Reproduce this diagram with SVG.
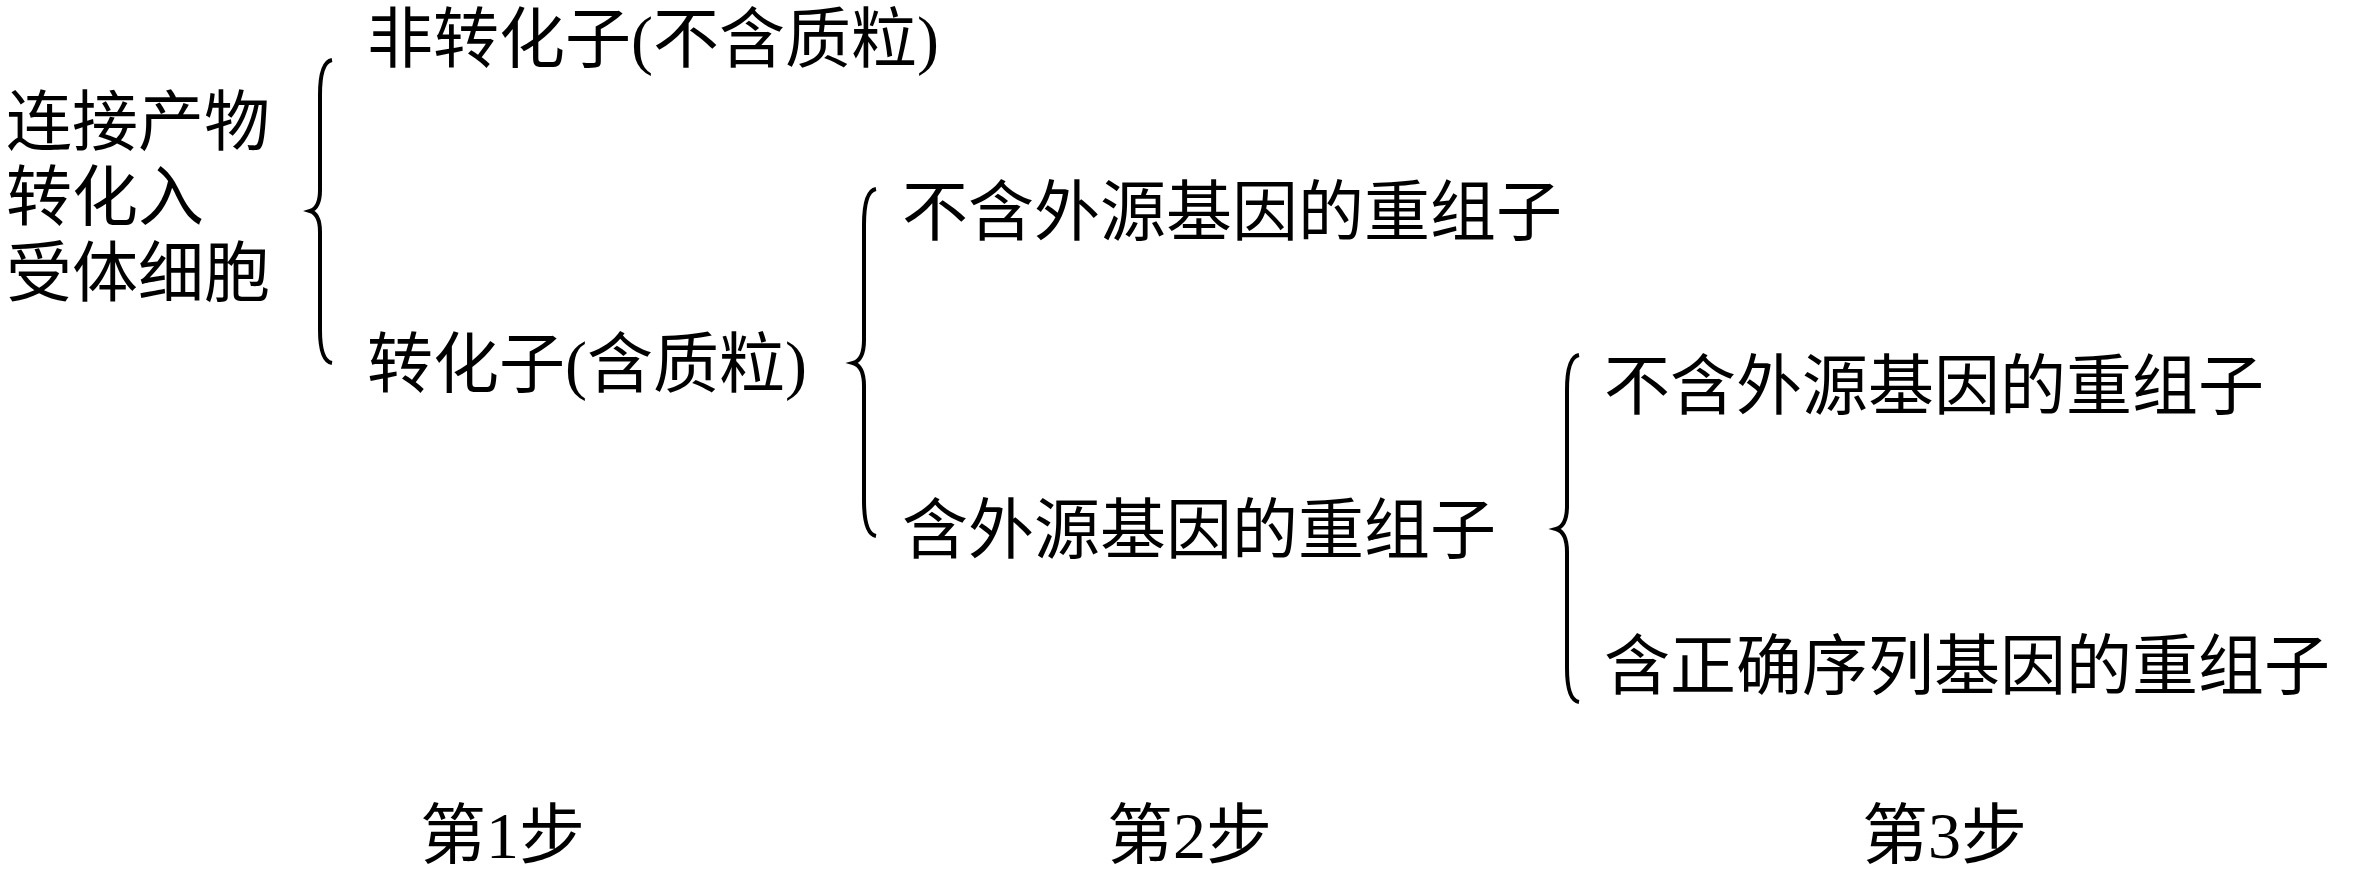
<svg xmlns="http://www.w3.org/2000/svg" width="2367" height="873" viewBox="0 0 2367 873">
<style>
text{font-family:"Liberation Serif","Noto Sans CJK SC",serif;font-size:66px;fill:#000}
.b{fill:none;stroke:#000;stroke-width:4}
</style>
<rect width="2367" height="873" fill="#fff"/>
<g id="root"><text x="6" y="145">连接产物</text><text x="6" y="220">转化入</text><text x="6" y="296">受体细胞</text></g>
<g id="n1"><text x="367" y="62">非转化子(不含质粒)</text></g>
<g id="n2"><text x="367" y="387">转化子(含质粒)</text></g>
<g id="n3"><text x="902" y="235">不含外源基因的重组子</text></g>
<g id="n4"><text x="902" y="553">含外源基因的重组子</text></g>
<g id="n5"><text x="1604" y="409">不含外源基因的重组子</text></g>
<g id="n6"><text x="1604" y="689">含正确序列基因的重组子</text></g>
<g id="steps"><text x="420" y="858">第1步</text><text x="1107" y="858">第2步</text><text x="1862" y="858">第3步</text></g>
<g id="connectors">
<path class="b" d="M332,60 Q320,62 320,95 L320,190 Q320,208 310,211 Q320,214 320,232 L320,330 Q320,361 332,363"/>
<path class="b" d="M876,189 Q864,191 864,225 L864,340 Q864,360 853,363 Q864,366 864,386 L864,500 Q864,534 876,536"/>
<path class="b" d="M1579,355 Q1567,357 1567,390 L1567,506 Q1567,526 1556,529 Q1567,532 1567,552 L1567,668 Q1567,700 1579,702"/>
</g>
</svg>
